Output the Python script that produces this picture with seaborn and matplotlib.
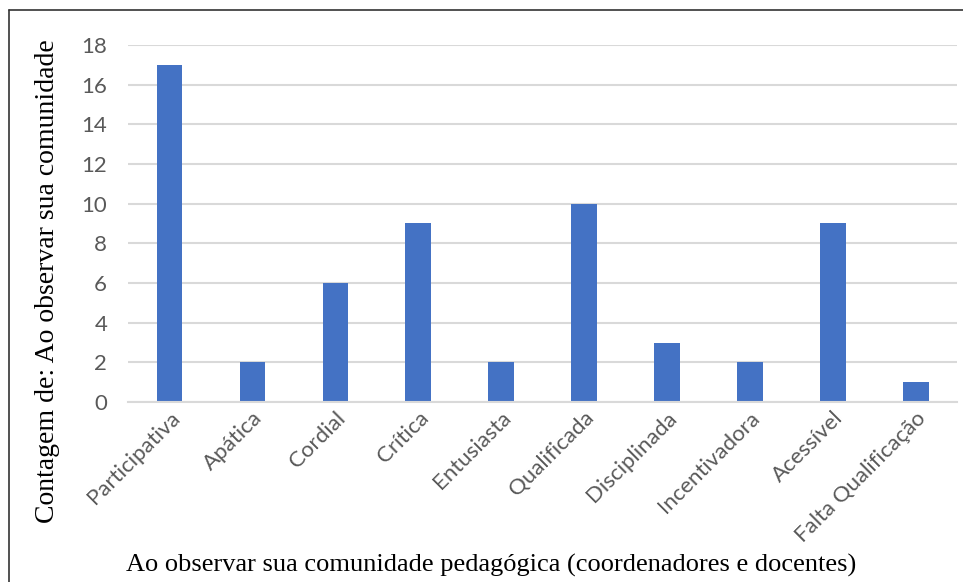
import matplotlib
matplotlib.use("Agg")
import matplotlib.pyplot as plt
import seaborn as sns
import pandas as pd
from matplotlib.lines import Line2D

categories = ["Participativa", "Apática", "Cordial", "Crítica", "Entusiasta",
              "Qualificada", "Disciplinada", "Incentivadora", "Acessível",
              "Falta Qualificação"]
counts = [17, 2, 6, 9, 2, 10, 3, 2, 9, 1]
y_ticks = [0, 2, 4, 6, 8, 10, 12, 14, 16, 18]

df = pd.DataFrame({"categoria": categories, "contagem": counts})

sns.set_style("white")
plt.rcParams["font.family"] = ["Lato", "DejaVu Sans"]

fig = plt.figure(figsize=(9.63, 5.82), dpi=100)
ax = fig.add_axes([0.133, 0.309, 0.861, 0.614])

sns.barplot(data=df, x="categoria", y="contagem", color="#4472C4",
            width=0.31, edgecolor="none", saturation=1, ax=ax)

ax.set_ylim(0, 18)
ax.set_xlim(-0.5, len(categories) - 0.5)
ax.set_yticks(y_ticks)
ax.yaxis.grid(True, color="#D9D9D9", linewidth=1.5)
ax.set_axisbelow(True)
for side in ["top", "right", "left"]:
    ax.spines[side].set_visible(False)
ax.spines["bottom"].set_color("#D9D9D9")
ax.spines["bottom"].set_linewidth(1.5)
ax.tick_params(axis="both", length=0, labelsize=16, labelcolor="#595959")
ax.tick_params(axis="y", pad=15)
ax.tick_params(axis="x", pad=4)
plt.setp(ax.get_xticklabels(), rotation=45, ha="right", rotation_mode="anchor")

ax.set_xlabel("Ao observar sua comunidade pedagógica (coordenadores e docentes)",
              family="Liberation Serif", fontsize=19, color="black")
ax.set_ylabel("Contagem de: Ao observar sua comunidade",
              family="Liberation Serif", fontsize=20, color="black")
ax.xaxis.set_label_coords(0.438, -0.425)
ax.yaxis.set_label_coords(-0.082, 0.34)

# thin frame around the figure (left and top edges visible)
fig.add_artist(Line2D([9 / 963, 9 / 963], [0, 1 - 10 / 582], color="#333333", linewidth=1.2))
fig.add_artist(Line2D([9 / 963, 1], [1 - 10 / 582, 1 - 10 / 582], color="#333333", linewidth=1.2))

fig.savefig("out.png", dpi=100)
